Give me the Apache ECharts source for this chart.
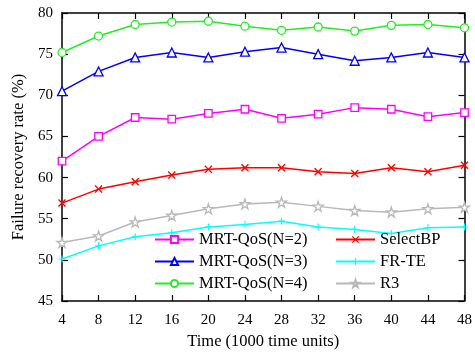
<!DOCTYPE html>
<html><head><meta charset="utf-8">
<script src="https://cdn.jsdelivr.net/npm/echarts@6/dist/echarts.min.js"></script>
<style>html,body{margin:0;padding:0;background:#fff}#c{width:475px;height:355px}</style>
</head><body><div id="c"></div>
<script>
const times = [4, 8, 12, 16, 20, 24, 28, 32, 36, 40, 44, 48];
const mrtN2 = [62.0, 65.0, 67.3, 67.1, 67.8, 68.3, 67.2, 67.7, 68.5, 68.3, 67.4, 67.9];
const mrtN3 = [70.5, 72.9, 74.6, 75.2, 74.6, 75.3, 75.8, 75.0, 74.2, 74.6, 75.2, 74.6];
const mrtN4 = [75.2, 77.2, 78.6, 78.9, 79.0, 78.4, 77.9, 78.3, 77.8, 78.5, 78.6, 78.2];
const selectBP = [56.9, 58.6, 59.5, 60.3, 61.0, 61.2, 61.2, 60.7, 60.5, 61.2, 60.7, 61.5];
const frte = [50.1, 51.7, 52.8, 53.3, 54.0, 54.3, 54.7, 54.0, 53.7, 53.2, 53.9, 54.0];
const r3 = [52.1, 52.9, 54.6, 55.4, 56.2, 56.8, 57.0, 56.5, 56.0, 55.8, 56.2, 56.4];
const yTicks = [45, 50, 55, 60, 65, 70, 75, 80];

const FONT = '"Liberation Serif", "DejaVu Serif", serif';
const crossPath = 'path://M0,1.2 L1.2,0 L5,3.8 L8.8,0 L10,1.2 L6.2,5 L10,8.8 L8.8,10 L5,6.2 L1.2,10 L0,8.8 L3.8,5 Z';
const plusPath = 'path://M4.2,0 H5.8 V4.2 H10 V5.8 H5.8 V10 H4.2 V5.8 H0 V4.2 H4.2 Z';
const starPath = 'path://M50,0 L61,35 L98,35 L68,57 L79,91 L50,70 L21,91 L32,57 L2,35 L39,35 Z';

function pairs(v){ return times.map((t,i)=>[t, v[i]]); }
function mk(name, data, color, symbol, size, filled){
  return {
    name, type:'line', data: pairs(data), symbol, symbolSize: size,
    lineStyle:{color, width:1.5},
    itemStyle: filled ? {color} : {color:'#fff', borderColor:color, borderWidth:1.3},
    emphasis:{disabled:true}
  };
}
const chart = echarts.init(document.getElementById('c'), null, {renderer:'canvas'});
const axisCommon = {
  axisLine:{show:true, lineStyle:{color:'#000', width:1.5}},
  axisTick:{show:true, inside:true, length:6, lineStyle:{color:'#000', width:1.2}},
  splitLine:{show:false}
};
const legendText = {color:'#000', fontFamily:FONT, fontSize:16.5, lineHeight:17};
chart.setOption({
  animation:false,
  backgroundColor:'#fff',
  grid:{left:62, right:8, top:13, bottom:52},
  xAxis:[
    Object.assign({type:'value', min:4, max:48, interval:4, position:'bottom',
      axisLabel:{color:'#000', fontFamily:FONT, fontSize:15, margin:12},
      name:'Time (1000 time units)', nameLocation:'middle', nameGap:32,
      nameTextStyle:{color:'#000', fontFamily:FONT, fontSize:16.5}}, axisCommon),
    Object.assign({type:'value', min:4, max:48, interval:4, position:'top',
      axisLabel:{show:false}}, axisCommon)
  ],
  yAxis:[
    Object.assign({type:'value', min:45, max:80, interval:5, position:'left',
      axisLabel:{color:'#000', fontFamily:FONT, fontSize:15, margin:9},
      name:'Failure recovery rate (%)', nameLocation:'middle', nameGap:31,
      nameTextStyle:{color:'#000', fontFamily:FONT, fontSize:16.5}}, axisCommon),
    Object.assign({type:'value', min:45, max:80, interval:5, position:'right',
      axisLabel:{show:false}}, axisCommon)
  ],
  legend:[
    {data:['MRT-QoS(N=2)','MRT-QoS(N=3)','MRT-QoS(N=4)'], orient:'vertical',
     left:149, top:226, itemWidth:39, itemHeight:9, itemGap:5, textStyle:legendText},
    {data:['SelectBP','FR-TE','R3'], orient:'vertical',
     left:330, top:226, itemWidth:39, itemHeight:9, itemGap:5, textStyle:legendText}
  ],
  series:[
    mk('MRT-QoS(N=2)', mrtN2, '#ff00ff', 'rect', 7.5, false),
    mk('MRT-QoS(N=3)', mrtN3, '#0000ff', 'triangle', 9, false),
    mk('MRT-QoS(N=4)', mrtN4, '#22ee22', 'circle', 8, false),
    mk('SelectBP', selectBP, '#ff0000', crossPath, 8, true),
    mk('FR-TE', frte, '#00ffff', plusPath, 7, true),
    mk('R3', r3, '#b8b8b8', starPath, 10, false)
  ]
});
</script></body></html>
